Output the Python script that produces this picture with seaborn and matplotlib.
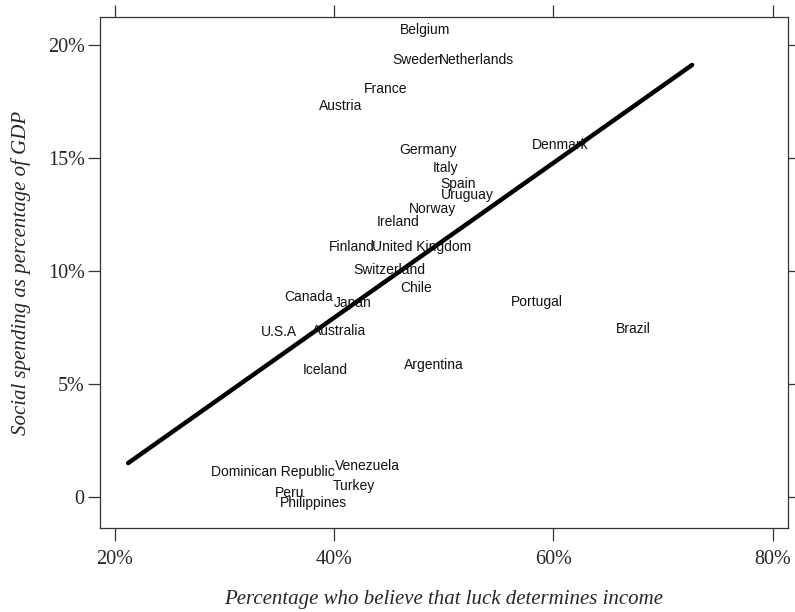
import seaborn as sns
import matplotlib.pyplot as plt
import pandas as pd

# country labels, luck belief (%) and social spending (% of GDP)
countries = ['Belgium', 'Sweden', 'Netherlands', 'France', 'Austria', 'Germany',
             'Denmark', 'Italy', 'Spain', 'Uruguay', 'Norway', 'Ireland', 'Finland',
             'United Kingdom', 'Switzerland', 'Chile', 'Canada', 'Japan', 'Portugal',
             'Brazil', 'U.S.A', 'Australia', 'Iceland', 'Argentina',
             'Dominican Republic', 'Venezuela', 'Turkey', 'Peru', 'Philippines']
luck = [48.3, 47.6, 53.0, 44.7, 40.6, 48.6,
        60.6, 50.2, 51.3, 52.1, 49.0, 45.8, 41.6,
        48.0, 45.0, 47.5, 37.7, 41.7, 58.5,
        67.3, 35.0, 40.4, 39.2, 49.1,
        34.4, 43.0, 41.8, 35.9, 38.1]
spending = [20.65, 19.32, 19.32, 18.04, 17.29, 15.34,
            15.56, 14.54, 13.84, 13.35, 12.73, 12.16, 11.05,
            11.05, 10.04, 9.24, 8.84, 8.58, 8.62,
            7.43, 7.29, 7.34, 5.61, 5.84,
            1.11, 1.37, 0.49, 0.18, -0.27]

# fitted line endpoints
fit_x = [21.2, 72.65]
fit_y = [1.50, 19.10]

x_ticks = [20, 40, 60, 80]
x_tick_labels = ['20%', '40%', '60%', '80%']
y_ticks = [0, 5, 10, 15, 20]
y_tick_labels = ['0', '5%', '10%', '15%', '20%']

sns.set_style("white")
plt.rcParams['font.family'] = ['Liberation Serif', 'DejaVu Serif']

fig = plt.figure(figsize=(7.95, 6.12), dpi=100)
ax = fig.add_axes([0.1258, 0.1373, 0.8654, 0.8349])

df = pd.DataFrame({'country': countries, 'luck': luck, 'spending': spending})
fit = pd.DataFrame({'luck': fit_x, 'spending': fit_y})

sns.lineplot(data=fit, x='luck', y='spending', color='black', linewidth=3.2, ax=ax)

for _, row in df.iterrows():
    ax.text(row['luck'], row['spending'], row['country'], ha='center', va='center',
            fontsize=10, family=['Liberation Sans', 'DejaVu Sans'], color='#111111')

ax.set_xlim(18.63, 81.4)
ax.set_ylim(-1.37, 21.22)
ax.set_xticks(x_ticks)
ax.set_xticklabels(x_tick_labels)
ax.set_yticks(y_ticks)
ax.set_yticklabels(y_tick_labels)

ax.tick_params(axis='both', direction='out', length=9, width=0.9, color='#333333',
               labelsize=14.5, bottom=True, left=True, top=True, right=True,
               labeltop=False, labelright=False)
ax.tick_params(axis='x', pad=7)
ax.tick_params(axis='y', pad=2)

for s in ax.spines.values():
    s.set_color('#333333')
    s.set_linewidth(0.9)

ax.set_xlabel('Percentage who believe that luck determines income', fontsize=15,
              style='italic', labelpad=15)
ax.set_ylabel('Social spending as percentage of GDP', fontsize=15, style='italic',
              labelpad=12)

fig.savefig('out.png', dpi=100)
